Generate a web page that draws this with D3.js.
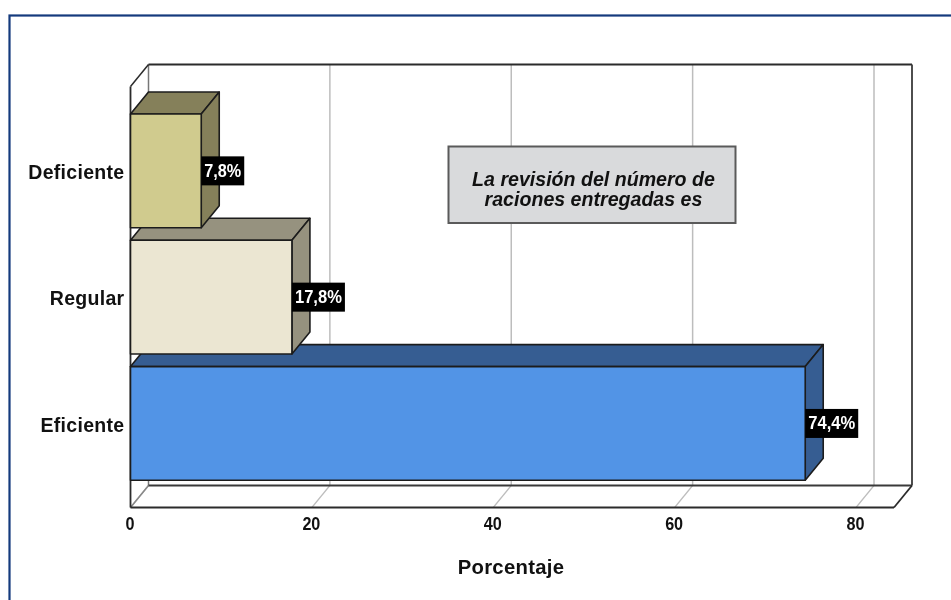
<!DOCTYPE html>
<html><head><meta charset="utf-8">
<script src="https://cdn.jsdelivr.net/npm/d3@7"></script>
<style>
html,body{margin:0;padding:0;background:#fff;overflow:hidden}
svg{display:block;filter:blur(0.35px)}
text{font-family:"Liberation Sans",Arial,sans-serif;fill:#111}
</style></head><body>
<svg id="c" width="951" height="600"></svg>
<script>
const categories = ["Eficiente","Regular","Deficiente"];
const values = [74.4,17.8,7.8];
const valueLabels = ["74,4%","17,8%","7,8%"];
const frontColors = ["#5294e6","#ebe6d2","#d0cb8e"];
const sideColors = ["#365d92","#96927f","#85805a"];
const xTicks = [0,20,40,60,80];
const xTitle = "Porcentaje";
const noteLines = ["La revisión del número de","raciones entregadas es"];

const svg = d3.select("#c");
const dx = 18, dy = 22;
const x = d3.scaleLinear().domain([0,80]).range([130.5,856]);
const y = d3.scaleBand().domain(categories.slice().reverse()).range([101.4,492.9]).padding(0.1);
const plotTop = 86.5, plotBottom = 507.5, plotRight = 894;

svg.append("rect").attr("x",9.5).attr("y",15.5).attr("width",980).attr("height",640)
  .attr("fill","#fff").attr("stroke","#143a7d").attr("stroke-width",2.2);

// walls
const dark = "#2b2b2b";
const line = (a,b,c,d,col,w)=>svg.append("line").attr("x1",a).attr("y1",b).attr("x2",c).attr("y2",d)
  .attr("stroke",col).attr("stroke-width",w);
xTicks.forEach(t=>{
  if(t>0){ line(x(t)+dx,plotTop-dy,x(t)+dx,plotBottom-dy,"#bdbdbd",1.5); }
  line(x(t),plotBottom,x(t)+dx,plotBottom-dy,"#bdbdbd",1.2);
});
line(x(0)+dx,plotTop-dy,x(0)+dx,plotBottom-dy,"#777",1.5);
line(x(0),plotBottom,x(0)+dx,plotBottom-dy,"#888",1.5);
line(x(0),plotTop,x(0)+dx,plotTop-dy,dark,1.5);
line(x(0)+dx,plotTop-dy,plotRight+dx,plotTop-dy,dark,1.8);
line(plotRight+dx,plotTop-dy,plotRight+dx,plotBottom-dy,"#3a3a3a",1.8);
line(x(0)+dx,plotBottom-dy,plotRight+dx,plotBottom-dy,"#3a3a3a",1.8);
line(plotRight+dx,plotBottom-dy,plotRight,plotBottom,dark,1.8);
line(x(0),plotBottom,plotRight,plotBottom,dark,2);
line(x(0),plotTop,x(0),plotBottom,dark,1.8);

// note box
const note = svg.append("g");
note.append("rect").attr("x",448.5).attr("y",146.5).attr("width",287).attr("height",76.5)
  .attr("fill","#d9dadc").attr("stroke","#5a5a5a").attr("stroke-width",2);
note.selectAll("text").data(noteLines).join("text")
  .attr("x",593.5).attr("y",(d,i)=>185.5+i*20.5).attr("text-anchor","middle")
  .attr("font-size",19.6).attr("font-weight","bold").attr("font-style","italic")
  .text(d=>d);

// bars, painted front (bottom) to back
const bars = svg.selectAll("g.bar").data(categories).join("g").attr("class","bar");
const poly = (pts)=>pts.map(p=>p.join(",")).join(" ");
bars.each(function(c,i){
  const g = d3.select(this), x0=x(0), x1=x(values[i]), y0=y(c), y1=y(c)+y.bandwidth();
  const st = {stroke:"#1c1c1c","stroke-width":1.6,"stroke-linejoin":"round"};
  const add=(pts,fill)=>{const p=g.append("polygon").attr("points",poly(pts)).attr("fill",fill);
    Object.entries(st).forEach(([k,v])=>p.attr(k,v));};
  add([[x0,y0],[x0+dx,y0-dy],[x1+dx,y0-dy],[x1,y0]],sideColors[i]);
  add([[x1,y0],[x1+dx,y0-dy],[x1+dx,y1-dy],[x1,y1]],sideColors[i]);
  add([[x0,y0],[x1,y0],[x1,y1],[x0,y1]],frontColors[i]);
});
// value labels after all bars
categories.forEach((c,i)=>{
  const x1=x(values[i]), cy=y(c)+y.bandwidth()/2;
  const w = valueLabels[i].length===4?43:53;
  svg.append("rect").attr("x",x1).attr("y",cy-14.5).attr("width",w).attr("height",29).attr("fill","#000");
  svg.append("text").attr("x",x1+w/2).attr("y",cy+6).attr("text-anchor","middle")
    .attr("font-size",17.5).attr("font-weight","bold").style("fill","#fff")
    .attr("textLength",w-6).attr("lengthAdjust","spacingAndGlyphs").text(valueLabels[i]);
});

// axes
const ax = svg.append("g").attr("transform",`translate(0,${plotBottom})`)
  .call(d3.axisBottom(x).tickValues(xTicks).tickSize(0).tickPadding(10));
ax.select(".domain").remove();
ax.selectAll("text").attr("font-size",17.5).attr("font-weight","bold")
  .attr("font-family",'"Liberation Sans",Arial,sans-serif').attr("dx",-1)
  .attr("textLength",d=>String(d).length*9).attr("lengthAdjust","spacingAndGlyphs");

const ay = svg.append("g").attr("transform",`translate(${x(0)},0)`)
  .call(d3.axisLeft(y).tickSize(0).tickPadding(6));
ay.select(".domain").remove();
ay.selectAll("text").attr("font-size",19.5).attr("font-weight","bold")
  .attr("font-family",'"Liberation Sans",Arial,sans-serif').attr("letter-spacing",0.3).attr("dy","0.42em");

svg.append("text").attr("x",511).attr("y",574).attr("text-anchor","middle")
  .attr("font-size",20.3).attr("font-weight","bold").attr("letter-spacing",0.3).text(xTitle);
</script>
</body></html>
